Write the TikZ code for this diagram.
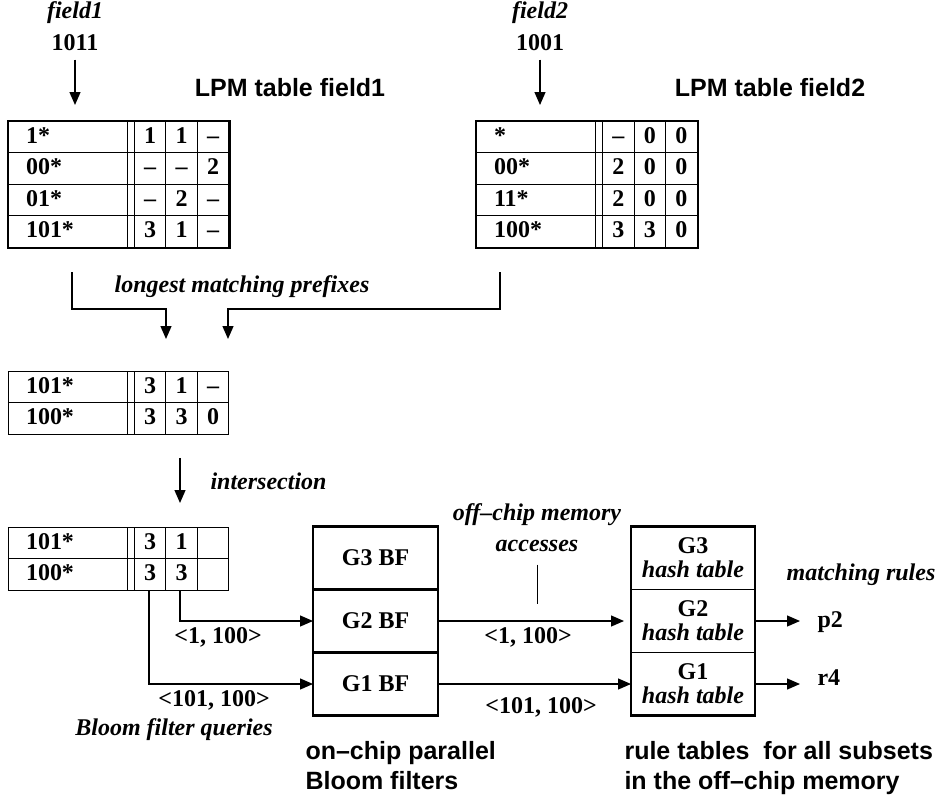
\documentclass[tikz,border=0pt]{standalone}
\usepackage{fontspec}
\setmainfont{Liberation Serif}
\setsansfont{Liberation Sans}
\usepackage{array}
\usetikzlibrary{arrows.meta, positioning, fit}
\setlength\tabcolsep{0pt}
\setlength\arrayrulewidth{1pt}
\setlength\doublerulesep{6pt}
\renewcommand\arraystretch{1.17}
\newcolumntype{L}{@{\hspace{17pt}}w{l}{101pt}}
\newcolumntype{N}{w{c}{30.5pt}}

\begin{document}
\begin{tikzpicture}[x=1pt, y=-1pt,
  lbl/.style={font=\fontsize{24}{26}\selectfont\bfseries},
  ilbl/.style={font=\fontsize{24}{26}\selectfont\bfseries\itshape},
  captxt/.style={font=\fontsize{25}{30}\selectfont\sffamily\bfseries, align=left},
  tbl/.style={inner sep=0pt, outer sep=0pt, anchor=north west,
              font=\fontsize{24}{26}\selectfont\bfseries},
  lpm/.style={tbl, draw, line width=2pt},
  bf/.style={draw, line width=2.5pt, minimum width=125pt, minimum height=63pt,
             outer sep=0pt, font=\fontsize{24}{26}\selectfont\bfseries},
  ht/.style={draw, line width=1pt, minimum width=124pt, minimum height=63pt,
             outer sep=0pt, inner sep=0pt, align=center,
             font=\fontsize{24}{24}\selectfont\bfseries},
  arr/.style={-{Triangle[length=13pt,width=11pt]}, line width=1.3pt}
]
\useasboundingbox (0,0) rectangle (948,803);

% input fields
\node[ilbl] (f1name) at (75,13) {field1};
\node[lbl]  (f1val)  at (75,43) {1011};
\node[ilbl] (f2name) at (540,13) {field2};
\node[lbl]  (f2val)  at (540,43) {1001};
\node[captxt] (ttl1) at (290,88) {LPM table field1};
\node[captxt] (ttl2) at (770,88) {LPM table field2};

% LPM tables
\node[lpm] (lpm1) at (8,121) {\begin{tabular}{|L||N|N|N|}\hline
1*   & 1  & 1  & -- \\\hline
00*  & -- & -- & 2  \\\hline
01*  & -- & 2  & -- \\\hline
101* & 3  & 1  & -- \\\hline
\end{tabular}};
\node[lpm] (lpm2) at (476,121) {\begin{tabular}{|L||N|N|N|}\hline
*    & -- & 0 & 0 \\\hline
00*  & 2  & 0 & 0 \\\hline
11*  & 2  & 0 & 0 \\\hline
100* & 3  & 3 & 0 \\\hline
\end{tabular}};

\draw[arr, shorten <=5pt, shorten >=16pt] (f1val.south) -- (f1val.south |- lpm1.north);
\draw[arr, shorten <=5pt, shorten >=16pt] (f2val.south) -- (f2val.south |- lpm2.north);

% longest matching prefixes
\coordinate (m1) at (72,272);
\coordinate (m2) at (500,272);
\coordinate (j1) at (166,339);
\coordinate (j2) at (228,339);
\draw[arr] (m1) -- ++(0,37) -| (j1);
\draw[arr] (m2) -- ++(0,37) -| (j2);
\node[ilbl] (lmp) at (242,287) {longest matching prefixes};

\node[tbl] (pre) at (8,371) {\begin{tabular}{|L||N|N|N|}\hline
101* & 3 & 1 & -- \\\hline
100* & 3 & 3 & 0  \\\hline
\end{tabular}};

% intersection
\node[tbl] (isec) at (8,527) {\begin{tabular}{|L||N|N|N|}\hline
101* & 3 & 1 & \\\hline
100* & 3 & 3 & \\\hline
\end{tabular}};
\draw[arr, shorten <=23pt, shorten >=24pt] ([xshift=172pt]pre.south west) -- ([xshift=172pt]isec.north west);
\node[ilbl, anchor=west] (isectlbl) at (207,481) {intersection};

% Bloom filters
\node[bf] (bf3) at (375.5,558) {G3 BF};
\node[bf, below=0pt of bf3] (bf2) {G2 BF};
\node[bf, below=0pt of bf2] (bf1) {G1 BF};

\draw[arr] ([xshift=172pt]isec.south west) |- (bf2.west);
\draw[arr] ([xshift=141pt]isec.south west) |- (bf1.west);
\node[lbl] (q2) at (218,637) {\textless1, 100\textgreater};
\node[lbl] (q1) at (214,700) {\textless101, 100\textgreater};
\node[ilbl] (bfq) at (174,730) {Bloom filter queries};

% hash tables
\node[ht] (ht3) at (693,558) {G3\\\textit{hash table}};
\node[ht, below=0pt of ht3] (ht2) {G2\\\textit{hash table}};
\node[ht, below=0pt of ht2] (ht1) {G1\\\textit{hash table}};
\node[draw, line width=2.5pt, inner sep=0pt, fit=(ht3)(ht1)] (htall) {};

\draw[arr, shorten >=7pt] (bf2.east) -- (ht2.west);
\draw[arr] (bf1.east) -- (ht1.west);
\node[lbl] (a2) at (528,637) {\textless1, 100\textgreater};
\node[lbl] (a1) at (541,707) {\textless101, 100\textgreater};
\node[ilbl, align=center, font=\fontsize{24}{31}\selectfont\bfseries\itshape] (offc) at (537,528) {off--chip memory\\accesses};
\draw[line width=1pt, shorten <=9pt, shorten >=17pt] (offc.south) -- (offc.south |- bf2.east);

% matching rules
\node[lbl, anchor=west] (p2) at (814,622) {p2};
\node[lbl, anchor=west] (r4) at (814,678) {r4};
\draw[arr, shorten >=14pt] (ht2.east) -- (ht2.east -| p2.west);
\draw[arr, shorten >=14pt] (ht1.east) -- (ht1.east -| r4.west);
\node[ilbl] (mrules) at (861,575) {matching rules};

% captions
\node[captxt, anchor=north west] (oncap) at (302,738) {on--chip parallel\\Bloom filters};
\node[captxt, anchor=north west] (offcap) at (621,738) {rule tables\ \ for all subsets\\in the off--chip memory};
\end{tikzpicture}
\end{document}
